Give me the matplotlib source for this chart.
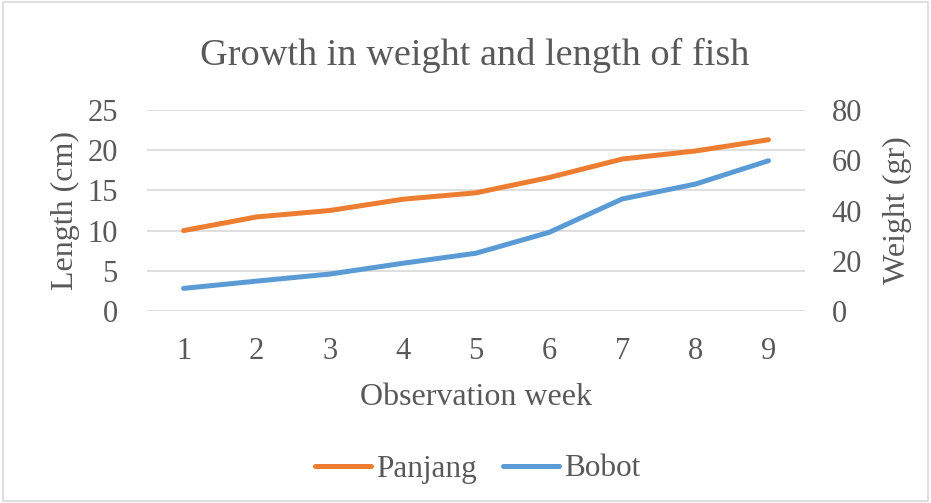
import matplotlib.pyplot as plt
from matplotlib.patches import Rectangle

plt.rcParams['font.family'] = ['Liberation Serif', 'DejaVu Serif']

weeks = [1, 2, 3, 4, 5, 6, 7, 8, 9]
panjang = [10.0, 11.7, 12.5, 13.9, 14.7, 16.6, 18.9, 19.9, 21.3]
bobot = [9.0, 11.9, 14.7, 19.0, 23.0, 31.3, 44.6, 50.5, 59.8]

orange = '#ED7D31'
blue = '#5B9BD5'
grey = '#595959'

fig = plt.figure(figsize=(9.31, 5.03), dpi=100)
fig.patches.append(Rectangle((0.003, 0.003), 0.994, 0.994, transform=fig.transFigure,
                             fill=False, edgecolor='#D9D9D9', linewidth=1.2))

ax = fig.add_axes([147 / 931, 1 - 311 / 503, 658 / 931, 201 / 503])
ax2 = ax.twinx()

l1, = ax.plot(weeks, panjang, color=orange, lw=3.6, solid_capstyle='round', label='Panjang')
l2, = ax2.plot(weeks, bobot, color=blue, lw=3.6, solid_capstyle='round', label='Bobot')

ax.set_xlim(0.5, 9.5)
ax.set_ylim(0, 25)
ax2.set_ylim(0, 80)
ax.set_yticks([0, 5, 10, 15, 20, 25])
ax2.set_yticks([0, 20, 40, 60, 80])
ax.set_xticks(weeks)

ax.grid(axis='y', color='#D9D9D9', lw=1.2)
ax.set_axisbelow(True)
for a in (ax, ax2):
    for s in a.spines.values():
        s.set_visible(False)
    a.tick_params(length=0, labelsize=22, colors=grey)
ax.tick_params(axis='x', pad=19)
ax.tick_params(axis='y', pad=21)
ax2.tick_params(axis='y', pad=19)

ax.set_xlabel('Observation week', fontsize=23, color=grey, labelpad=12)
ax.set_ylabel('Length (cm)', fontsize=23, color=grey, labelpad=5)
ax2.set_ylabel('Weight (gr)', fontsize=23, color=grey, labelpad=15)

fig.text(0.51, 1 - 55 / 503, 'Growth in weight and length of fish', fontsize=27.5,
         color=grey, ha='center', va='center')

fig.legend(handles=[l1, l2], loc='center', bbox_to_anchor=(0.513, 1 - 469 / 503), ncol=2,
           frameon=False, fontsize=22.5, labelcolor=grey, handlelength=1.8,
           handletextpad=0.15, columnspacing=0.85)

fig.savefig('out.png', dpi=100)
